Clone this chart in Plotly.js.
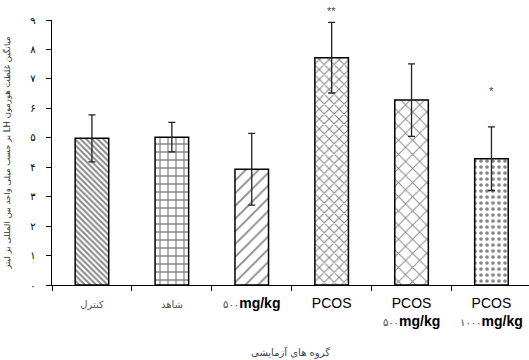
<!DOCTYPE html>
<html>
<head>
<meta charset="utf-8">
<script src="https://cdn.plot.ly/plotly-3.0.1.min.js"></script>
<style>html,body{margin:0;padding:0;background:#fff;}#chart{width:529px;height:360px;}</style>
</head>
<body>
<div id="chart"></div>
<script>
// Data
const categories = [
  '<span style="font-size:10px;color:#555">کنترل</span>',
  '<span style="font-size:10px;color:#555">شاهد</span>',
  '<span style="font-size:10px;color:#444">۵۰۰</span><b>mg/kg</b>',
  'PCOS',
  'PCOS<br><span style="font-size:10px;color:#444">۵۰۰</span><b>mg/kg</b>',
  'PCOS<br><span style="font-size:10px;color:#444">۱۰۰۰</span><b>mg/kg</b>'
];
const means = [4.98, 5.02, 3.93, 7.72, 6.28, 4.29];
const errors = [0.80, 0.50, 1.22, 1.20, 1.23, 1.08];
const sigLabels = ['', '', '', '**', '', '*'];
const sigY = [null, null, null, 9.3, null, 6.6];
const yMax = 9;
const yTickVals = [0, 1, 2, 3, 4, 5, 6, 7, 8, 9];
const yTickText = ['۰', '۱', '۲', '۳', '۴', '۵', '۶', '۷', '۸', '۹'];
const patternShapes = ['\\', '+', '/', 'x', 'x', '.'];
const patternSizes = [4, 8, 9, 7, 10, 6];
const patternSolidity = [0.5, 0.3, 0.2, 0.3, 0.18, 0.3];

const barTrace = {
  type: 'bar',
  x: categories,
  y: means,
  width: 0.42,
  marker: {
    color: '#ffffff',
    line: {color: '#000', width: 1.5},
    pattern: {
      shape: patternShapes,
      size: patternSizes,
      solidity: patternSolidity,
      fgcolor: '#111',
      bgcolor: '#ffffff',
      fillmode: 'overlay'
    }
  },
  error_y: {type: 'data', array: errors, visible: true, color: '#222', thickness: 1.3, width: 3.5},
  hoverinfo: 'none'
};

const annotations = [];
sigLabels.forEach((s, i) => {
  if (s) annotations.push({x: categories[i], xref: 'x', y: sigY[i] / yMax, yref: 'paper',
    text: s, showarrow: false, yanchor: 'middle', font: {size: 11, color: '#444'}});
});

const layout = {
  width: 529, height: 360,
  margin: {l: 52, r: 0, t: 20, b: 75},
  paper_bgcolor: '#fff', plot_bgcolor: '#fff',
  font: {family: 'Liberation Sans, Arial, DejaVu Sans', color: '#000', size: 14},
  showlegend: false,
  xaxis: {
    type: 'category',
    showline: true, linecolor: '#000', linewidth: 1.3,
    ticks: 'outside', tickson: 'boundaries', ticklen: 5, tickcolor: '#000', tickwidth: 1,
    tickfont: {size: 14, color: '#000', family: 'Liberation Sans, Arial, DejaVu Sans'},
    ticklabelstandoff: 5,
    tickangle: 0,
    showgrid: false, zeroline: false,
    range: [-0.5, 5.47],
    title: {text: 'گروه های آزمایشی', font: {size: 10, color: '#444', family: 'DejaVu Sans'}, standoff: 20}
  },
  yaxis: {
    range: [0, yMax],
    tickvals: yTickVals, ticktext: yTickText,
    showline: true, linecolor: '#000', linewidth: 1.3,
    ticks: 'outside', ticklen: 5, tickcolor: '#000', tickwidth: 1,
    tickfont: {size: 10, color: '#000', family: 'DejaVu Sans'},
    ticklabelstandoff: 8,
    showgrid: false, zeroline: false,
    title: {text: '\u202Bمیانگین غلظت هورمون LH بر حسب میلی واحد بین المللی بر لیتر\u202C', font: {size: 8.5, color: '#333', family: 'DejaVu Sans'}, standoff: 18}
  },
  bargap: 0.58,
  annotations: annotations
};

Plotly.newPlot('chart', [barTrace], layout, {displayModeBar: false, staticPlot: true});
</script>
</body>
</html>
